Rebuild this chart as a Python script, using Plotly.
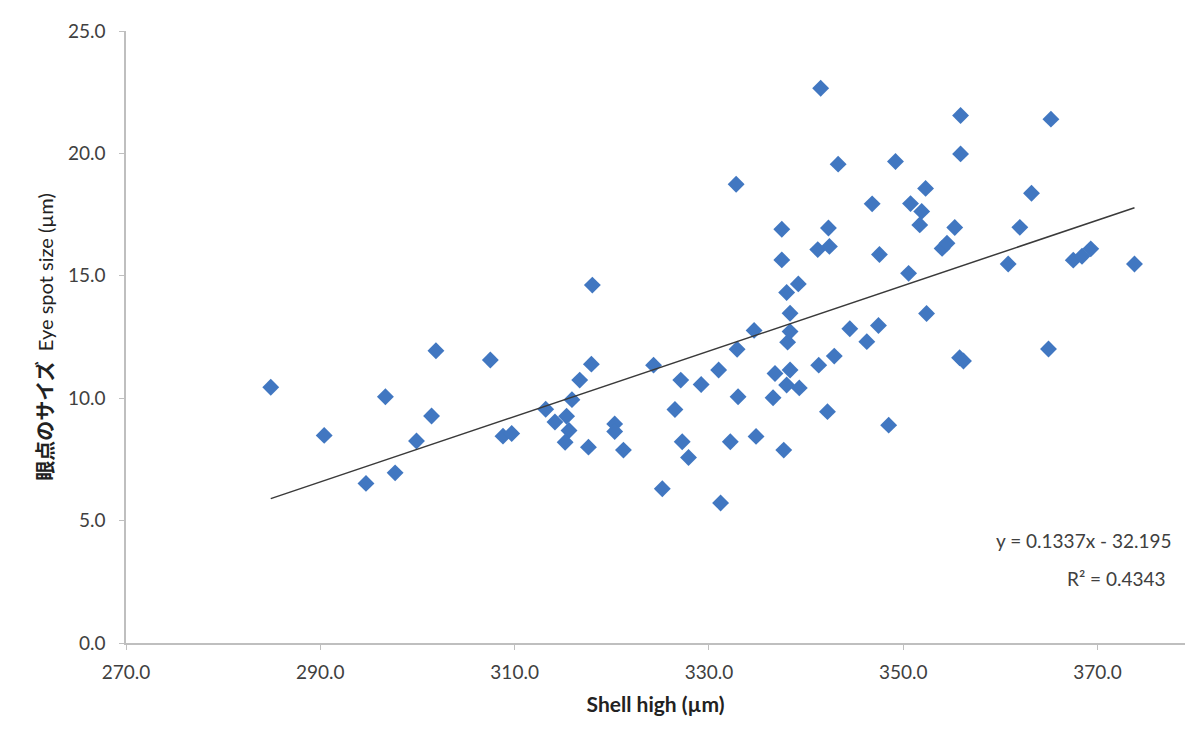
import plotly.graph_objects as go

# Shell height (µm) and eye spot size (µm) for each specimen
shell_high = [
    284.9, 290.4, 294.7, 296.7, 297.7, 299.9, 301.45, 301.9, 307.5, 308.8,
    309.7, 313.2, 314.15, 315.35, 315.6, 315.2, 315.9, 316.7, 317.9, 318.0,
    317.6, 320.3, 320.3, 321.2, 324.3, 325.2, 326.5, 327.1, 327.25, 327.9,
    329.2, 331.0, 331.2, 332.2, 332.9, 333.0, 332.8, 334.65, 334.85, 336.6,
    336.8, 337.5, 337.5, 337.7, 338.0, 338.0, 338.1, 338.35, 338.35, 338.35,
    339.2, 339.3, 341.2, 341.3, 341.5, 342.2, 342.3, 342.4, 342.9, 343.3,
    344.5, 346.25, 346.8, 347.45, 347.55, 348.5, 349.2, 350.55, 350.75, 351.9,
    351.7, 352.3, 352.4, 354.0, 354.5, 355.3, 355.8, 356.2, 355.9, 355.9,
    360.8, 362.0, 363.2, 364.95, 365.2, 367.5, 368.4, 369.3, 373.8,
]
eye_spot = [
    10.45, 8.48, 6.52, 10.06, 6.95, 8.25, 9.27, 11.94, 11.56, 8.45,
    8.56, 9.55, 9.03, 9.26, 8.68, 8.20, 9.94, 10.74, 11.39, 14.62,
    8.00, 8.95, 8.64, 7.88, 11.35, 6.30, 9.54, 10.74, 8.22, 7.58,
    10.56, 11.15, 5.72, 8.22, 12.00, 10.06, 18.74, 12.77, 8.44, 10.02,
    11.01, 16.90, 15.65, 7.88, 14.32, 10.54, 12.29, 13.47, 12.72, 11.15,
    14.67, 10.42, 16.07, 11.35, 22.66, 9.45, 16.95, 16.20, 11.72, 19.56,
    12.84, 12.31, 17.94, 12.97, 15.87, 8.90, 19.67, 15.10, 17.95, 17.63,
    17.08, 18.57, 13.46, 16.12, 16.33, 16.97, 11.65, 11.52, 21.55, 19.98,
    15.48, 16.98, 18.37, 12.01, 21.40, 15.64, 15.80, 16.10, 15.48,
]

# Linear trendline coefficients and fit quality
slope = 0.1337
intercept = -32.195
r_squared = 0.4343

x_ticks = [270, 290, 310, 330, 350, 370]
y_ticks = [0, 5, 10, 15, 20, 25]

FONT = "Lato, 'Noto Sans CJK JP', sans-serif"
TEXT = "#404040"
AXIS = "#bfbfbf"

x_line = [min(shell_high), max(shell_high)]
y_line = [slope * v + intercept for v in x_line]

fig = go.Figure()
fig.add_trace(go.Scatter(
    x=shell_high, y=eye_spot, mode="markers",
    marker=dict(symbol="diamond", size=13, color="#4177c1",
                line=dict(width=0)),
    showlegend=False, cliponaxis=False,
))
fig.add_trace(go.Scatter(
    x=x_line, y=y_line, mode="lines",
    line=dict(color="#3a3a3a", width=1.5),
    showlegend=False,
))

W, H = 1187, 742
ML, MR, MT, MB = 126, 2, 31, 99
pw, ph = W - ML - MR, H - MT - MB


def px_to_paper(px, py):
    return (px - ML) / pw, 1 - (py - MT) / ph


ax, ay = px_to_paper(1174, 540)
fig.add_annotation(
    x=ax, y=ay, xref="paper", yref="paper", showarrow=False,
    text=f"y = {slope}x - {abs(intercept)}",
    font=dict(family=FONT, size=19, color=TEXT), xanchor="right", yanchor="middle",
)
ax, ay = px_to_paper(1168, 578)
fig.add_annotation(
    x=ax, y=ay, xref="paper", yref="paper", showarrow=False,
    text=f"R² = {r_squared}",
    font=dict(family=FONT, size=19, color=TEXT), xanchor="right", yanchor="middle",
)

fig.update_layout(
    width=W, height=H,
    margin=dict(l=ML, r=MR, t=MT, b=MB, pad=0),
    paper_bgcolor="white", plot_bgcolor="white",
    font=dict(family=FONT, size=19, color=TEXT),
    xaxis=dict(
        range=[270, 379], tickvals=x_ticks, tickformat=".1f",
        showgrid=False, zeroline=False, showline=True,
        linecolor=AXIS, linewidth=1.5,
        ticks="outside", ticklen=5, tickcolor=AXIS, tickwidth=1,
        ticklabelstandoff=6,
        tickfont=dict(family=FONT, size=19, color=TEXT),
        title=dict(text="<b>Shell high (µm)</b>", standoff=16,
                   font=dict(family=FONT, size=21, color="#222222")),
    ),
    yaxis=dict(
        range=[0, 25], tickvals=y_ticks, tickformat=".1f",
        showgrid=False, zeroline=False, showline=True,
        linecolor=AXIS, linewidth=1.5,
        ticks="outside", ticklen=5, tickcolor=AXIS, tickwidth=1,
        ticklabelstandoff=10,
        tickfont=dict(family=FONT, size=19, color=TEXT),
        title=dict(text="<b>眼点のサイズ</b>  Eye spot size (µm)", standoff=9,
                   font=dict(family=FONT, size=20, color="#222222")),
    ),
)

fig.write_html("out.html")
